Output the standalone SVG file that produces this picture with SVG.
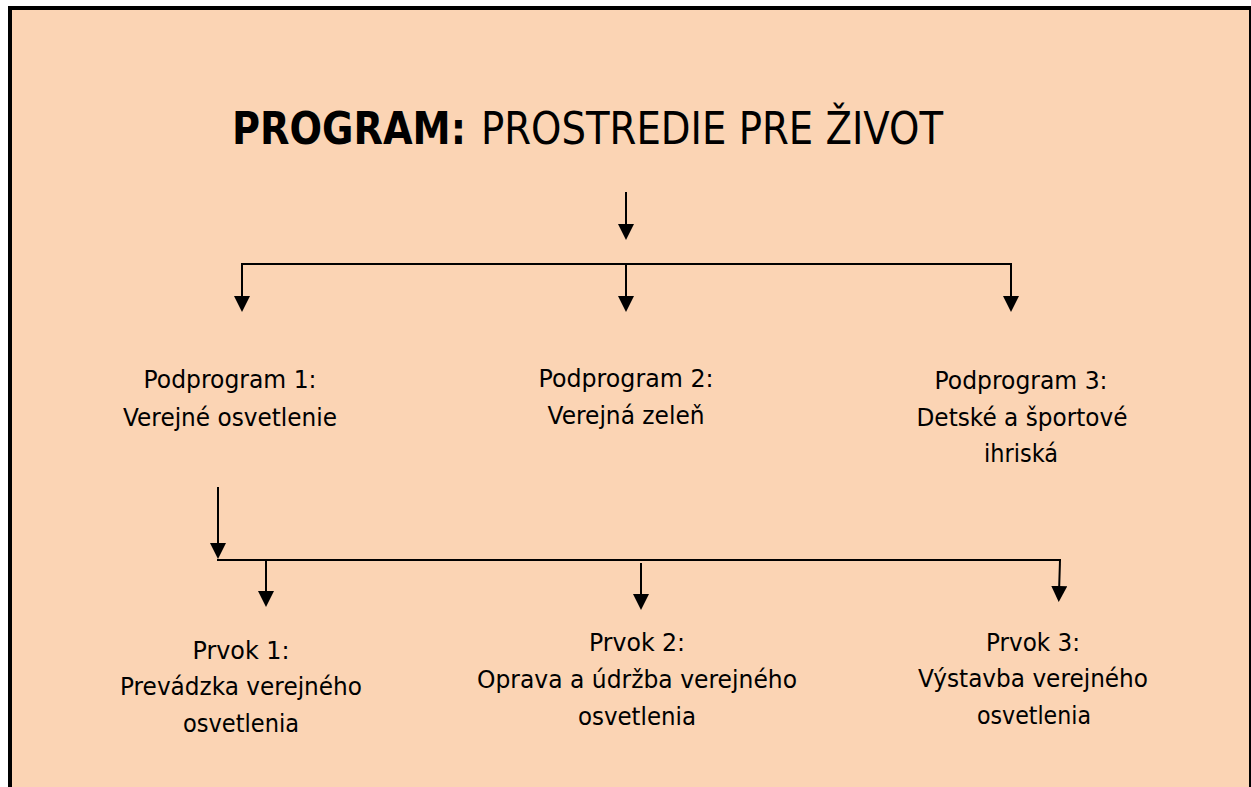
<svg xmlns="http://www.w3.org/2000/svg" width="1251" height="787" viewBox="0 0 1251 787">
<style>
  .t { font-family: "DejaVu Sans", "Liberation Sans", sans-serif; font-size: 25px; fill: #000; text-anchor: middle; }
  .title { font-family: "DejaVu Sans", "Liberation Sans", sans-serif; font-size: 44px; fill: #000; }
  .b { font-weight: bold; }
  .c { stroke: #000; stroke-width: 2; fill: none; }
  .a { marker-end: url(#ah); }
</style>
<defs>
  <marker id="ah" markerUnits="userSpaceOnUse" markerWidth="16" markerHeight="16" viewBox="0 0 16 16" refX="7" refY="8" orient="auto">
    <path d="M0,0 L16,8 L0,16 z" fill="#000"/>
  </marker>
</defs>
<rect x="0" y="0" width="1251" height="787" fill="#fff"/>
<rect x="8" y="6" width="1243" height="781" fill="#000"/>
<rect x="12" y="10" width="1237" height="777" fill="#FBD4B4"/>

<g id="title">
  <text class="title b" x="232" y="144" textLength="234" lengthAdjust="spacingAndGlyphs">PROGRAM:</text>
  <text class="title" x="481" y="144" textLength="462" lengthAdjust="spacingAndGlyphs">PROSTREDIE PRE ŽIVOT</text>
</g>

<g id="connectors">
  <line class="c a" x1="626" y1="192" x2="626" y2="231"/>
  <line class="c" x1="241" y1="264" x2="1012" y2="264"/>
  <line class="c a" x1="242" y1="264" x2="242" y2="303"/>
  <line class="c a" x1="626" y1="264" x2="626" y2="303"/>
  <line class="c a" x1="1011" y1="264" x2="1011" y2="303"/>
  <line class="c a" x1="218" y1="487" x2="218" y2="550"/>
  <line class="c" x1="217" y1="560" x2="1061" y2="560"/>
  <line class="c a" x1="266" y1="560" x2="266" y2="598"/>
  <line class="c a" x1="641" y1="563" x2="641" y2="601"/>
  <line class="c a" x1="1060" y1="560" x2="1059" y2="593"/>
</g>

<g id="podprogram1">
  <text class="t" x="230" y="388" textLength="173" lengthAdjust="spacingAndGlyphs">Podprogram 1:</text>
  <text class="t" x="230" y="426" textLength="214" lengthAdjust="spacingAndGlyphs">Verejné osvetlenie</text>
</g>
<g id="podprogram2">
  <text class="t" x="626" y="387" textLength="175" lengthAdjust="spacingAndGlyphs">Podprogram 2:</text>
  <text class="t" x="626" y="424" textLength="157" lengthAdjust="spacingAndGlyphs">Verejná zeleň</text>
</g>
<g id="podprogram3">
  <text class="t" x="1021" y="389" textLength="173" lengthAdjust="spacingAndGlyphs">Podprogram 3:</text>
  <text class="t" x="1022" y="426" textLength="211" lengthAdjust="spacingAndGlyphs">Detské a športové</text>
  <text class="t" x="1021" y="462" textLength="74" lengthAdjust="spacingAndGlyphs">ihriská</text>
</g>

<g id="prvok1">
  <text class="t" x="241" y="659" textLength="97" lengthAdjust="spacingAndGlyphs">Prvok 1:</text>
  <text class="t" x="241" y="695" textLength="242" lengthAdjust="spacingAndGlyphs">Prevádzka verejného</text>
  <text class="t" x="241" y="732" textLength="116" lengthAdjust="spacingAndGlyphs">osvetlenia</text>
</g>
<g id="prvok2">
  <text class="t" x="637" y="651" textLength="96" lengthAdjust="spacingAndGlyphs">Prvok 2:</text>
  <text class="t" x="637" y="688" textLength="320" lengthAdjust="spacingAndGlyphs">Oprava a údržba verejného</text>
  <text class="t" x="637" y="725" textLength="118" lengthAdjust="spacingAndGlyphs">osvetlenia</text>
</g>
<g id="prvok3">
  <text class="t" x="1033" y="651" textLength="94" lengthAdjust="spacingAndGlyphs">Prvok 3:</text>
  <text class="t" x="1033" y="687" textLength="230" lengthAdjust="spacingAndGlyphs">Výstavba verejného</text>
  <text class="t" x="1034" y="724" textLength="114" lengthAdjust="spacingAndGlyphs">osvetlenia</text>
</g>
</svg>
